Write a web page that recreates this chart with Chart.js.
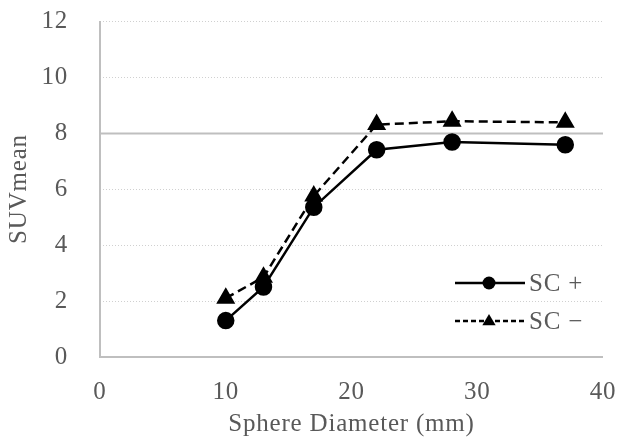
<!DOCTYPE html>
<html><head><meta charset="utf-8">
<script src="https://cdn.jsdelivr.net/npm/chart.js@4"></script>
<style>html,body{margin:0;padding:0;background:#fff}#wrap{width:621px;height:439px}</style>
</head><body><div id="wrap"><canvas id="c" width="621" height="439"></canvas></div>
<script>
const diameters = [10, 13, 17, 22, 28, 37];
const scPlus = [1.3, 2.5, 5.35, 7.4, 7.68, 7.58];
const scMinus = [2.1, 2.85, 5.75, 8.3, 8.42, 8.38];
const seriesNames = ['SC +', 'SC \u2212'];
const yTicks = [0, 2, 4, 6, 8, 10, 12];
const xTicks = [0, 10, 20, 30, 40];
const refLine = 8;

const FONT = '"Liberation Serif", "DejaVu Serif", serif';
const TXT = '#595959';
const FS = 25;

const spacingPlugin = {
  id: 'spacing',
  beforeLayout(chart) { chart.ctx.letterSpacing = '0.8px'; },
  beforeDraw(chart) { chart.ctx.letterSpacing = '0.8px'; }
};

const gridPlugin = {
  id: 'grid',
  beforeDatasetsDraw(chart) {
    const {ctx, chartArea: a, scales: {x, y}} = chart;
    ctx.save();
    yTicks.forEach(v => {
      if (v === 0) return;
      const py = Math.round(y.getPixelForValue(v)) + 0.5;
      ctx.beginPath();
      if (v === refLine) { ctx.setLineDash([]); ctx.strokeStyle = '#bfbfbf'; ctx.lineWidth = 2; }
      else { ctx.setLineDash([1, 2]); ctx.strokeStyle = '#d0d0d0'; ctx.lineWidth = 1; }
      ctx.moveTo(a.left, py); ctx.lineTo(a.right, py); ctx.stroke();
    });
    ctx.setLineDash([]);
    ctx.strokeStyle = '#bfbfbf'; ctx.lineWidth = 2;
    ctx.beginPath();
    ctx.moveTo(a.left, a.top); ctx.lineTo(a.left, a.bottom); ctx.lineTo(a.right, a.bottom);
    ctx.stroke();
    ctx.restore();
  }
};

const legendPlugin = {
  id: 'innerLegend',
  afterDatasetsDraw(chart) {
    const {ctx, chartArea: a} = chart;
    ctx.save();
    chart.data.datasets.forEach((ds, i) => {
      const yy = a.bottom - 74 + i * 38;
      const x0 = a.right - 148, x1 = a.right - 78;
      ctx.strokeStyle = '#000'; ctx.lineWidth = 2.5;
      ctx.setLineDash(i === 1 ? [5, 3] : []);
      ctx.beginPath(); ctx.moveTo(x0, yy); ctx.lineTo(x1, yy); ctx.stroke();
      ctx.setLineDash([]);
      ctx.fillStyle = '#000';
      const cx = (x0 + x1) / 2 - 1;
      ctx.beginPath();
      if (ds.pointStyle === 'triangle') {
        const r = 7;
        ctx.moveTo(cx, yy - r); ctx.lineTo(cx + r * 0.95, yy + r * 0.6); ctx.lineTo(cx - r * 0.95, yy + r * 0.6); ctx.closePath();
      } else {
        ctx.arc(cx, yy, 6.5, 0, Math.PI * 2);
      }
      ctx.fill();
      ctx.fillStyle = TXT; ctx.font = FS + 'px ' + FONT; ctx.textBaseline = 'middle'; ctx.textAlign = 'left';
      ctx.fillText(ds.label, x1 + 4, yy + 1);
    });
    ctx.restore();
  }
};

new Chart(document.getElementById('c'), {
  type: 'line',
  data: {
    datasets: [
      { label: seriesNames[0], data: diameters.map((d, i) => ({x: d, y: scPlus[i]})),
        borderColor: '#000', backgroundColor: '#000', borderWidth: 2.5,
        pointStyle: 'circle', pointRadius: 7.5, pointHoverRadius: 7.5 },
      { label: seriesNames[1], data: diameters.map((d, i) => ({x: d, y: scMinus[i]})),
        borderColor: '#000', backgroundColor: '#000', borderWidth: 2.5, borderDash: [9, 5],
        pointStyle: 'triangle', pointRadius: 8.5, pointHoverRadius: 8.5 }
    ]
  },
  options: {
    responsive: false, animation: false,
    layout: { padding: { top: 21, right: 18, left: 0, bottom: 0 } },
    plugins: { legend: { display: false }, tooltip: { enabled: false } },
    scales: {
      x: {
        type: 'linear', min: 0, max: 40,
        afterBuildTicks: s => { s.ticks = xTicks.map(v => ({value: v})); },
        afterFit: s => { s.height = 82; s.paddingLeft = 0; s.paddingRight = 0; },
        grid: { display: false, drawTicks: false }, border: { display: false },
        ticks: { color: TXT, font: { family: FONT, size: FS }, padding: 20 },
        title: { display: true, text: 'Sphere Diameter (mm)', color: TXT, font: { family: FONT, size: FS }, padding: { top: 0, bottom: 0 } }
      },
      y: {
        min: 0, max: 12,
        afterBuildTicks: s => { s.ticks = yTicks.map(v => ({value: v})); },
        afterFit: s => { s.width = 100; s.paddingTop = 0; s.paddingBottom = 0; },
        grid: { display: false, drawTicks: false }, border: { display: false },
        ticks: { color: TXT, font: { family: FONT, size: FS }, padding: 32 },
        title: { display: true, text: 'SUVmean', color: TXT, font: { family: FONT, size: FS }, padding: { bottom: 0, top: 4 } }
      }
    }
  },
  plugins: [spacingPlugin, gridPlugin, legendPlugin]
});
</script></body></html>
